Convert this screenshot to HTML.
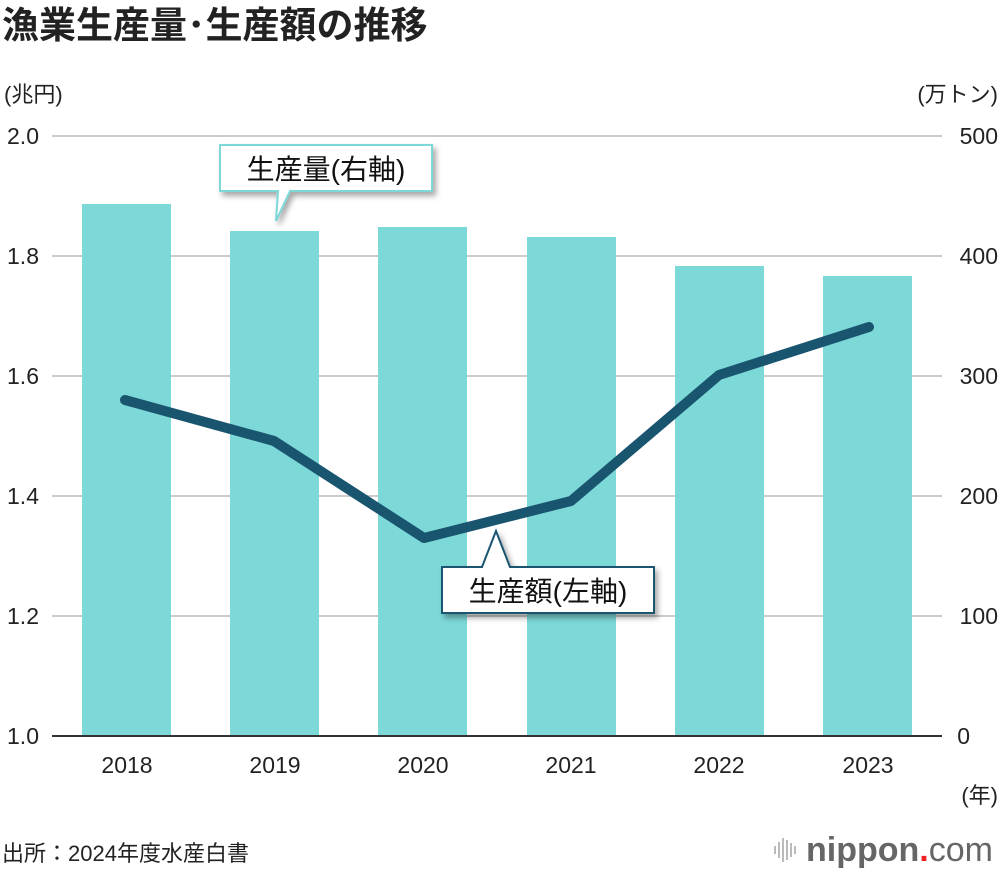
<!DOCTYPE html><html><head><meta charset="utf-8"><style>
body{margin:0;background:#fff;width:1000px;height:870px;overflow:hidden}
svg text{font-family:"Liberation Sans","Noto Sans CJK JP",sans-serif}
</style></head><body>
<svg width="1000" height="870" xmlns="http://www.w3.org/2000/svg">
<defs><filter id="sh" x="-20%" y="-20%" width="140%" height="160%"><feDropShadow dx="3" dy="4" stdDeviation="3" flood-color="#000" flood-opacity="0.35"/></filter></defs>
<text x="2" y="38" font-size="37" font-weight="bold" fill="#222">漁業生産量･生産額の推移</text>
<text x="4" y="102" font-size="22" fill="#222">(兆円)</text>
<text x="998" y="102" font-size="22" fill="#222" text-anchor="end">(万トン)</text>
<g stroke="#ccc" stroke-width="2">
<line x1="52" x2="942" y1="136" y2="136"/><line x1="52" x2="942" y1="256" y2="256"/><line x1="52" x2="942" y1="376" y2="376"/><line x1="52" x2="942" y1="496" y2="496"/><line x1="52" x2="942" y1="616" y2="616"/></g>
<g fill="#7dd8d8">
<rect x="82" y="204" width="89" height="532"/><rect x="230" y="231" width="89" height="505"/><rect x="378" y="227" width="89" height="509"/><rect x="527" y="237" width="89" height="499"/><rect x="675" y="266" width="89" height="470"/><rect x="823" y="276" width="89" height="460"/></g>
<line x1="52" x2="942" y1="736" y2="736" stroke="#333" stroke-width="2"/>
<g font-size="23" fill="#222" text-anchor="end">
<text x="39" y="144">2.0</text><text x="39" y="264">1.8</text><text x="39" y="384">1.6</text><text x="39" y="504">1.4</text><text x="39" y="624">1.2</text><text x="39" y="744">1.0</text></g>
<g font-size="23" fill="#222" text-anchor="end">
<text x="998" y="144">500</text><text x="998" y="264">400</text><text x="998" y="384">300</text><text x="998" y="504">200</text><text x="998" y="624">100</text><text x="970" y="744">0</text></g>
<g font-size="23" fill="#222" text-anchor="middle">
<text x="127" y="773">2018</text><text x="275" y="773">2019</text><text x="423" y="773">2020</text><text x="571" y="773">2021</text><text x="719" y="773">2022</text><text x="868" y="773">2023</text></g>
<text x="998" y="803" font-size="22" fill="#222" text-anchor="end">(年)</text>
<polyline points="125,400 274,441 424,538 571,501 719,375 869,327" fill="none" stroke="#1a5570" stroke-width="10" stroke-linejoin="round" stroke-linecap="round"/>
<path d="M220,145 H432 V191 H290 L276,221 L278,191 H220 Z" fill="#fff" stroke="#7dd8d8" stroke-width="2" filter="url(#sh)"/>
<text x="326" y="179" font-size="28" fill="#111" text-anchor="middle">生産量(右軸)</text>
<path d="M442,567 H482 L496,531 L510,567 H654 V613 H442 Z" fill="#fff" stroke="#1a5570" stroke-width="2" filter="url(#sh)"/>
<text x="548" y="601" font-size="28" fill="#111" text-anchor="middle">生産額(左軸)</text>
<text x="2" y="861" font-size="22" fill="#222">出所：2024年度水産白書</text>
<g stroke="#bbb" stroke-width="2"><line x1="775" y1="846" x2="775" y2="854"/><line x1="779" y1="842" x2="779" y2="858"/><line x1="783" y1="838" x2="783" y2="862"/><line x1="787" y1="840" x2="787" y2="860"/><line x1="791" y1="843" x2="791" y2="857"/><line x1="795" y1="846" x2="795" y2="854"/></g>
<text x="806" y="861" font-size="34" fill="#666" font-weight="bold">nippon<tspan fill="#e22">.</tspan><tspan font-weight="normal">com</tspan></text>
</svg></body></html>
